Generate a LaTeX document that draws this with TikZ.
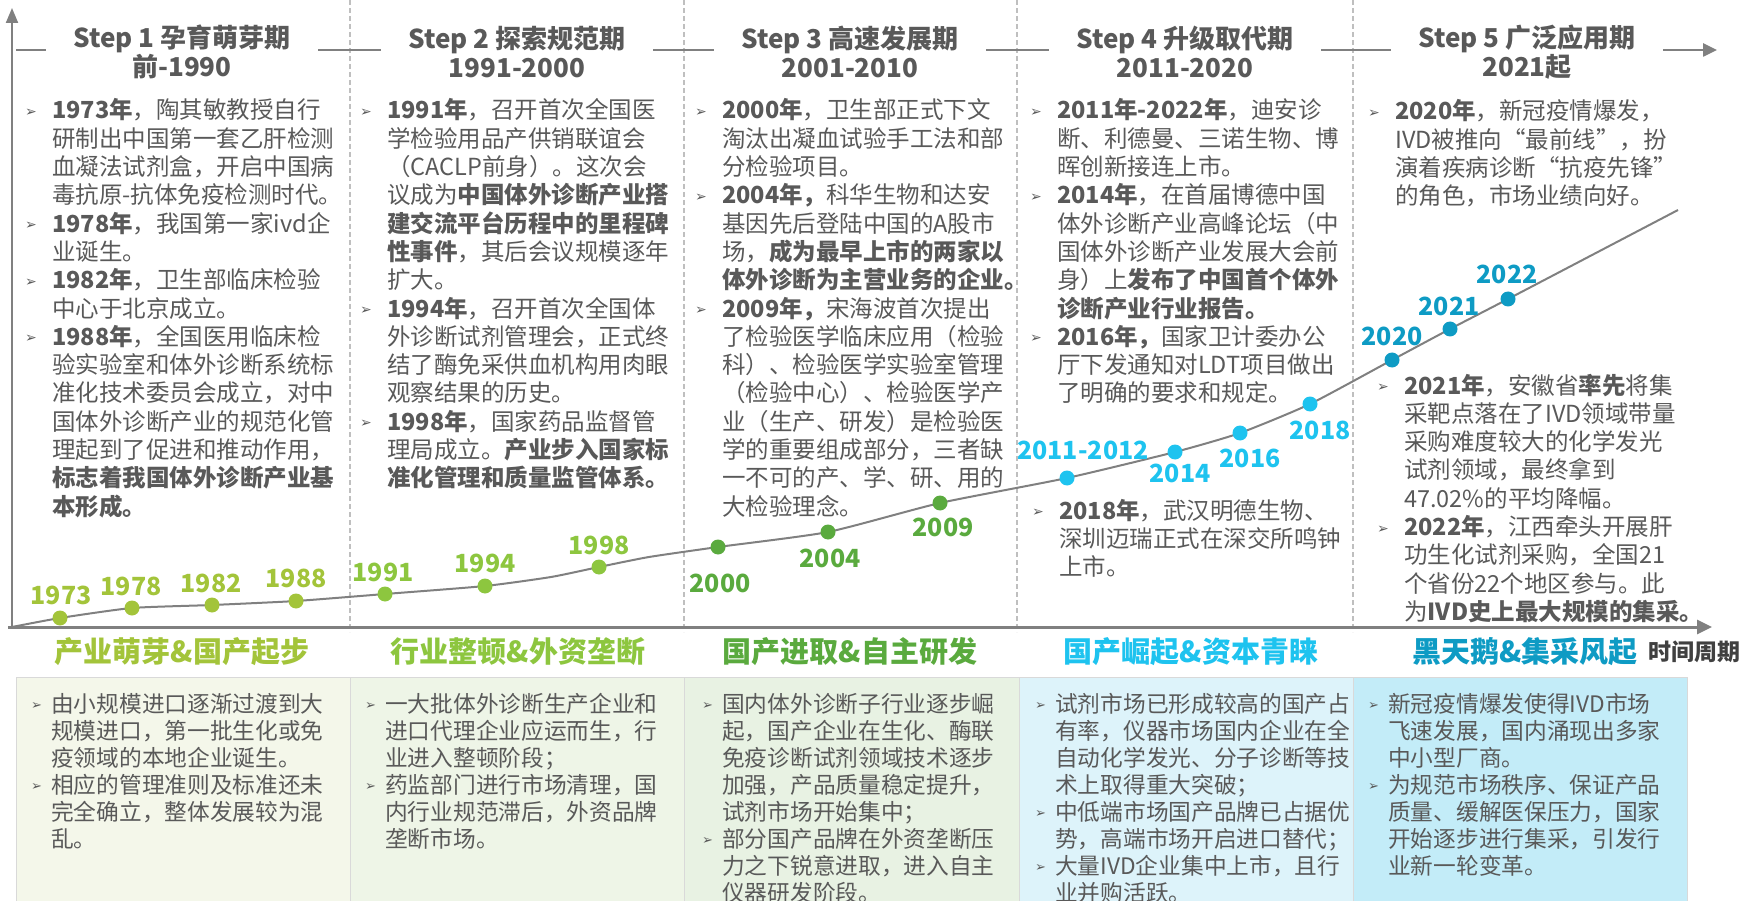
\documentclass[tikz,border=0pt]{standalone}
\usepackage{fontspec}
\setmainfont{Noto Sans CJK SC}
\newfontfamily\bulfont{DejaVu Sans}
\usetikzlibrary{arrows.meta}
\definecolor{txt}{HTML}{595959}
\definecolor{axisgray}{HTML}{808080}
\definecolor{sepgray}{HTML}{BFBFBF}
\definecolor{bulgray}{HTML}{595959}
\definecolor{gA}{HTML}{A3C43A}
\definecolor{gB}{HTML}{8DC63F}
\definecolor{gC}{HTML}{5AAA3E}
\definecolor{cD}{HTML}{1EC3EF}
\definecolor{cE}{HTML}{0E9BC4}
\definecolor{boxA}{HTML}{F4F7EA}
\definecolor{boxB}{HTML}{EEF5E7}
\definecolor{boxC}{HTML}{E8F2E3}
\definecolor{boxD}{HTML}{DDF3FA}
\definecolor{boxE}{HTML}{C3ECF8}
\definecolor{boxline}{HTML}{D9D9D9}
\definecolor{darklabel}{HTML}{404040}

\newcommand{\bl}{\makebox[27pt][l]{\raisebox{2.5pt}{\color{bulgray}\bulfont\fontsize{14}{14}\selectfont ➢}}}
\newcommand{\ind}{\hspace*{27pt}}
\newcommand{\bbl}{\makebox[20pt][l]{\raisebox{2.5pt}{\color{bulgray}\bulfont\fontsize{13}{13}\selectfont ➢}}}
\newcommand{\bind}{\hspace*{20pt}}
\newcommand{\coltext}[1]{\parbox[t]{340pt}{\fontsize{23.5}{28.3}\selectfont #1}}
\newcommand{\boxtext}[1]{\parbox[t]{340pt}{\fontsize{22.7}{27}\selectfont #1}}

\tikzset{
  steptitle/.style={fill=white, inner sep=0pt, minimum width=272pt, minimum height=58pt, align=center,
    font=\bfseries\fontsize{26}{28.5}\selectfont, text=txt},
  yr/.style={font=\bfseries\fontsize{25}{25}\selectfont, inner sep=0pt},
  dot/.style={circle, inner sep=0pt, minimum size=15pt},
  coltxt/.style={anchor=base west, inner sep=0pt, text=txt},
  catlabel/.style={font=\bfseries\fontsize{29}{29}\selectfont, inner sep=0pt},
  bottombox/.style={draw=boxline, line width=1pt, anchor=north west, minimum height=240pt, inner sep=0pt},
  sepline/.style={sepgray, line width=1.2pt, dash pattern=on 5pt off 3pt},
  axisline/.style={axisgray, line width=2.5pt},
}

\begin{document}
\begin{tikzpicture}[x=1pt,y=-1pt]
\useasboundingbox (0,0) rectangle (1746,901);
\clip (0,0) rectangle (1746,901);

% bottom boxes
\node[bottombox, fill=boxA, minimum width=334pt] (bA) at (16,677) {};
\node[bottombox, fill=boxB, minimum width=334pt] (bB) at (350,677) {};
\node[bottombox, fill=boxC, minimum width=335pt] (bC) at (684,677) {};
\node[bottombox, fill=boxD, minimum width=336pt] (bD) at (1019,677) {};
\node[bottombox, fill=boxE, minimum width=334pt] (bE) at (1353,677) {};

% separators
\draw[sepline] (350,0) -- (350,632);
\draw[sepline] (684,0) -- (684,632);
\draw[sepline] (1017,0) -- (1017,632);
\draw[sepline] (1353,0) -- (1353,632);

% axes
\coordinate (O) at (12,627);
\coordinate (Ytip) at (12,8);
\coordinate (X0) at (8,627);
\coordinate (Xtip) at (1712,627);
\draw[axisgray, line width=2pt, -{Triangle[length=15pt,width=12pt]}] (O) -- (Ytip);
\draw[axisgray, line width=3pt, -{Triangle[length=15pt,width=14pt]}] (X0) -- (Xtip);

% header line
\coordinate (H0) at (16,50);
\coordinate (H1) at (1717,50);
\draw[axisline, -{Triangle[length=14pt,width=13pt]}] (H0) -- (H1);

% step titles
\node[steptitle] (s1) at (182,52) {Step 1 孕育萌芽期\\前-1990};
\node[steptitle] (s2) at (517,52) {Step 2 探索规范期\\1991-2000};
\node[steptitle] (s3) at (850,52) {Step 3 高速发展期\\2001-2010};
\node[steptitle] (s4) at (1185,52) {Step 4 升级取代期\\2011-2020};
\node[steptitle] (s5) at (1527,52) {Step 5 广泛应用期\\2021起};

% curve points
\coordinate (p1973) at (60,618);
\coordinate (p1978) at (132,608);
\coordinate (p1982) at (212,605);
\coordinate (p1988) at (296,601);
\coordinate (p1991) at (385,594);
\coordinate (p1994) at (485,586);
\coordinate (q1) at (551,577);
\coordinate (p1998) at (599,567);
\coordinate (q2) at (649,557);
\coordinate (p2000) at (718,547);
\coordinate (p2004) at (828,532);
\coordinate (p2009) at (940,503);
\coordinate (p2011) at (1067,478);
\coordinate (p2014) at (1175,452);
\coordinate (p2016) at (1240,433);
\coordinate (p2018) at (1310,404);
\coordinate (p2020) at (1392,360);
\coordinate (p2021) at (1450,329);
\coordinate (p2022) at (1508,299);
\coordinate (pend) at (1678,210);
\draw[axisgray, line width=2pt] plot[smooth, tension=0.35] coordinates {(O) (p1973) (p1978) (p1982) (p1988) (p1991) (p1994) (q1) (p1998) (q2) (p2000) (p2004) (p2009) (p2011) (p2014) (p2016) (p2018) (p2020) (p2021) (p2022) (pend)};

% dots
\node[dot, fill=gA] (d1973) at (p1973) {};
\node[dot, fill=gA] (d1978) at (p1978) {};
\node[dot, fill=gA] (d1982) at (p1982) {};
\node[dot, fill=gA] (d1988) at (p1988) {};
\node[dot, fill=gB] (d1991) at (p1991) {};
\node[dot, fill=gB] (d1994) at (p1994) {};
\node[dot, fill=gB] (d1998) at (p1998) {};
\node[dot, fill=gC] (d2000) at (p2000) {};
\node[dot, fill=gC] (d2004) at (p2004) {};
\node[dot, fill=gC] (d2009) at (p2009) {};
\node[dot, fill=cD] (d2011) at (p2011) {};
\node[dot, fill=cD] (d2014) at (p2014) {};
\node[dot, fill=cD] (d2016) at (p2016) {};
\node[dot, fill=cD] (d2018) at (p2018) {};
\node[dot, fill=cE] (d2020) at (p2020) {};
\node[dot, fill=cE] (d2021) at (p2021) {};
\node[dot, fill=cE] (d2022) at (p2022) {};

% year labels
\node[yr, text=gA] (l1973) at (61,595) {1973};
\node[yr, text=gA] (l1978) at (131,586) {1978};
\node[yr, text=gA] (l1982) at (211,583) {1982};
\node[yr, text=gA] (l1988) at (296,578) {1988};
\node[yr, text=gB] (l1991) at (383,572) {1991};
\node[yr, text=gB] (l1994) at (485,563) {1994};
\node[yr, text=gB] (l1998) at (599,545) {1998};
\node[yr, text=gC] (l2000) at (720,583) {2000};
\node[yr, text=gC] (l2004) at (830,558) {2004};
\node[yr, text=gC] (l2009) at (943,527) {2009};
\node[yr, text=cD] (l2011) at (1083,450) {2011-2012};
\node[yr, text=cD] (l2014) at (1180,473) {2014};
\node[yr, text=cD] (l2016) at (1250,458) {2016};
\node[yr, text=cD] (l2018) at (1320,430) {2018};
\node[yr, text=cE] (l2020) at (1392,336) {2020};
\node[yr, text=cE] (l2021) at (1449,306) {2021};
\node[yr, text=cE] (l2022) at (1507,274) {2022};

% column texts
\node[coltxt] (t1) at (25,119) {\coltext{%
\bl\textbf{1973年}，陶其敏教授自行\\
\ind 研制出中国第一套乙肝检测\\
\ind 血凝法试剂盒，开启中国病\\
\ind 毒抗原-抗体免疫检测时代。\\
\bl\textbf{1978年}，我国第一家ivd企\\
\ind 业诞生。\\
\bl\textbf{1982年}，卫生部临床检验\\
\ind 中心于北京成立。\\
\bl\textbf{1988年}，全国医用临床检\\
\ind 验实验室和体外诊断系统标\\
\ind 准化技术委员会成立，对中\\
\ind 国体外诊断产业的规范化管\\
\ind 理起到了促进和推动作用，\\
\ind\textbf{标志着我国体外诊断产业基}\\
\ind\textbf{本形成。}}};

\node[coltxt] (t2) at (360,119) {\coltext{%
\bl\textbf{1991年}，召开首次全国医\\
\ind 学检验用品产供销联谊会\\
\ind （CACLP前身）。这次会\\
\ind 议成为\textbf{中国体外诊断产业搭}\\
\ind\textbf{建交流平台历程中的里程碑}\\
\ind\textbf{性事件}，其后会议规模逐年\\
\ind 扩大。\\
\bl\textbf{1994年}，召开首次全国体\\
\ind 外诊断试剂管理会，正式终\\
\ind 结了酶免采供血机构用肉眼\\
\ind 观察结果的历史。\\
\bl\textbf{1998年}，国家药品监督管\\
\ind 理局成立。\textbf{产业步入国家标}\\
\ind\textbf{准化管理和质量监管体系。}}};

\node[coltxt] (t3) at (695,119) {\coltext{%
\bl\textbf{2000年}，卫生部正式下文\\
\ind 淘汰出凝血试验手工法和部\\
\ind 分检验项目。\\
\bl\textbf{2004年，}科华生物和达安\\
\ind 基因先后登陆中国的A股市\\
\ind 场，\textbf{成为最早上市的两家以}\\
\ind\textbf{体外诊断为主营业务的企业。}\\
\bl\textbf{2009年，}宋海波首次提出\\
\ind 了检验医学临床应用（检验\\
\ind 科）、检验医学实验室管理\\
\ind （检验中心）、检验医学产\\
\ind 业（生产、研发）是检验医\\
\ind 学的重要组成部分，三者缺\\
\ind 一不可的产、学、研、用的\\
\ind 大检验理念。}};

\node[coltxt] (t4) at (1030,119) {\coltext{%
\bl\textbf{2011年-2022年}，迪安诊\\
\ind 断、利德曼、三诺生物、博\\
\ind 晖创新接连上市。\\
\bl\textbf{2014年}，在首届博德中国\\
\ind 体外诊断产业高峰论坛（中\\
\ind 国体外诊断产业发展大会前\\
\ind 身）上\textbf{发布了中国首个体外}\\
\ind\textbf{诊断产业行业报告。}\\
\bl\textbf{2016年，}国家卫计委办公\\
\ind 厅下发通知对LDT项目做出\\
\ind 了明确的要求和规定。}};

\node[coltxt] (t4b) at (1032,519) {\coltext{%
\bl\textbf{2018年}，武汉明德生物、\\
\ind 深圳迈瑞正式在深交所鸣钟\\
\ind 上市。}};

\node[coltxt] (t5) at (1368,120) {\coltext{%
\bl\textbf{2020年}，新冠疫情爆发，\\
\ind IVD被推向“最前线”，扮\\
\ind 演着疾病诊断“抗疫先锋”\\
\ind 的角色，市场业绩向好。}};

\node[coltxt] (t5b) at (1377,394) {\coltext{%
\bl\textbf{2021年}，安徽省\textbf{率先}将集\\
\ind 采靶点落在了IVD领域带量\\
\ind 采购难度较大的化学发光\\
\ind 试剂领域，最终拿到\\
\ind 47.02\%的平均降幅。\\
\bl\textbf{2022年}，江西牵头开展肝\\
\ind 功生化试剂采购，全国21\\
\ind 个省份22个地区参与。此\\
\ind 为\textbf{IVD史上最大规模的集采。}}};

% category labels
\node[catlabel, text=gA] (cat1) at (182,652) {产业萌芽\&国产起步};
\node[catlabel, text=gB] (cat2) at (518,652) {行业整顿\&外资垄断};
\node[catlabel, text=gC] (cat3) at (850,652) {国产进取\&自主研发};
\node[catlabel, text=cD] (cat4) at (1191,652) {国产崛起\&资本青睐};
\node[catlabel, text=cE] (cat5) at (1525,652) {黑天鹅\&集采风起};
\node[font=\bfseries\fontsize{23}{23}\selectfont, text=darklabel, inner sep=0pt] (period) at (1694,652) {时间周期};

% bottom box texts
\node[coltxt] (b1) at (31,712) {\boxtext{%
\bbl 由小规模进口逐渐过渡到大\\
\bind 规模进口，第一批生化或免\\
\bind 疫领域的本地企业诞生。\\
\bbl 相应的管理准则及标准还未\\
\bind 完全确立，整体发展较为混\\
\bind 乱。}};

\node[coltxt] (b2) at (365,712) {\boxtext{%
\bbl 一大批体外诊断生产企业和\\
\bind 进口代理企业应运而生，行\\
\bind 业进入整顿阶段；\\
\bbl 药监部门进行市场清理，国\\
\bind 内行业规范滞后，外资品牌\\
\bind 垄断市场。}};

\node[coltxt] (b3) at (702,712) {\boxtext{%
\bbl 国内体外诊断子行业逐步崛\\
\bind 起，国产企业在生化、酶联\\
\bind 免疫诊断试剂领域技术逐步\\
\bind 加强，产品质量稳定提升，\\
\bind 试剂市场开始集中；\\
\bbl 部分国产品牌在外资垄断压\\
\bind 力之下锐意进取，进入自主\\
\bind 仪器研发阶段。}};

\node[coltxt] (b4) at (1035,712) {\boxtext{%
\bbl 试剂市场已形成较高的国产占\\
\bind 有率，仪器市场国内企业在全\\
\bind 自动化学发光、分子诊断等技\\
\bind 术上取得重大突破；\\
\bbl 中低端市场国产品牌已占据优\\
\bind 势，高端市场开启进口替代；\\
\bbl 大量IVD企业集中上市，且行\\
\bind 业并购活跃。}};

\node[coltxt] (b5) at (1368,712) {\boxtext{%
\bbl 新冠疫情爆发使得IVD市场\\
\bind 飞速发展，国内涌现出多家\\
\bind 中小型厂商。\\
\bbl 为规范市场秩序、保证产品\\
\bind 质量、缓解医保压力，国家\\
\bind 开始逐步进行集采，引发行\\
\bind 业新一轮变革。}};
\end{tikzpicture}
\end{document}
